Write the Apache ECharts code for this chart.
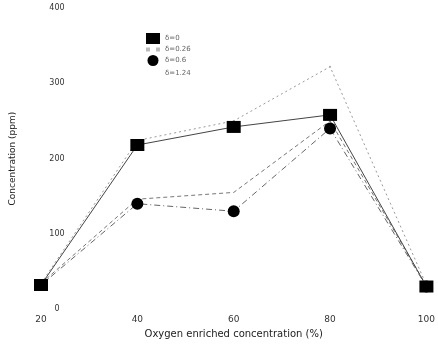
<!DOCTYPE html>
<html><head><meta charset="utf-8">
<script src="https://cdn.jsdelivr.net/npm/echarts@6/dist/echarts.min.js"></script>
<style>html,body{margin:0;padding:0;background:#fff}#c{width:438px;height:344px}</style>
</head><body><div id="c"></div>
<script>
const xValues = [20, 40, 60, 80, 100];
const yTicks = [0, 100, 200, 300, 400];
const seriesNames = ['δ=0', 'δ=0.26', 'δ=0.6', 'δ=1.24'];
const d0 = [32, 218, 242, 258, 30];
const d026 = [34, 224, 250, 322, 32];
const d06 = [32, 140, 130, 240, 30];
const d124 = [34, 146, 155, 250, 31];

const font = 'DejaVu Sans';
function pts(arr){ return xValues.map((x,i)=>[x, arr[i]]); }

const chart = echarts.init(document.getElementById('c'));
chart.setOption({
  backgroundColor: '#fff',
  animation: false,
  grid: { left: 37, right: 8, top: 8, bottom: 31, containLabel: false },
  legend: {
    orient: 'vertical', left: 141, top: 28, itemGap: 2,
    itemWidth: 14, itemHeight: 11,
    textStyle: { fontSize: 7, color: '#666', fontFamily: font },
    data: [
      { name: seriesNames[0], icon: 'rect', itemStyle: { color: '#000' } },
      { name: seriesNames[1], icon: 'path://M0,10h2v2h-2z M5,10h2v2h-2z', itemStyle: { color: '#bbb' } },
      { name: seriesNames[2], icon: 'circle', itemStyle: { color: '#000' } },
      { name: seriesNames[3], icon: 'path://M0,0h1v1h-1z', itemStyle: { color: '#fff' } }
    ]
  },
  xAxis: {
    type: 'value', min: 20, max: 100, interval: 20,
    axisLine: { show: false }, axisTick: { show: false }, splitLine: { show: false },
    axisLabel: { fontSize: 9, color: '#333', fontFamily: font, margin: 6 },
    name: 'Oxygen enriched concentration (%)', nameLocation: 'middle', nameGap: 19,
    nameTextStyle: { fontSize: 10, color: '#222', fontFamily: font }
  },
  yAxis: {
    type: 'value', min: yTicks[0], max: yTicks[yTicks.length-1], interval: 100,
    axisLine: { show: false }, axisTick: { show: false }, splitLine: { show: false },
    axisLabel: { fontSize: 8, color: '#333', fontFamily: font, margin: -16, align: 'center' },
    name: 'Concentration (ppm)', nameLocation: 'middle', nameGap: 24,
    nameTextStyle: { fontSize: 9, color: '#222', fontFamily: font }
  },
  series: [
    { name: seriesNames[0], type: 'line', data: pts(d0), symbol: 'rect', symbolSize: [14, 12],
      itemStyle: { color: '#000' }, lineStyle: { color: '#444', width: 1 }, z: 5 },
    { name: seriesNames[1], type: 'line', data: pts(d026), symbol: 'circle', symbolSize: 2,
      itemStyle: { color: '#aaa' }, lineStyle: { color: '#999', width: 1, type: [2, 3] } },
    { name: seriesNames[2], type: 'line', data: pts(d06), symbol: 'circle', symbolSize: 12,
      itemStyle: { color: '#000' }, lineStyle: { color: '#666', width: 1, type: [6, 3, 1, 3] }, z: 5 },
    { name: seriesNames[3], type: 'line', data: pts(d124), symbol: 'none', symbolSize: 2,
      itemStyle: { color: '#fff' }, lineStyle: { color: '#777', width: 1, type: [4, 3] } }
  ]
});
</script></body></html>
